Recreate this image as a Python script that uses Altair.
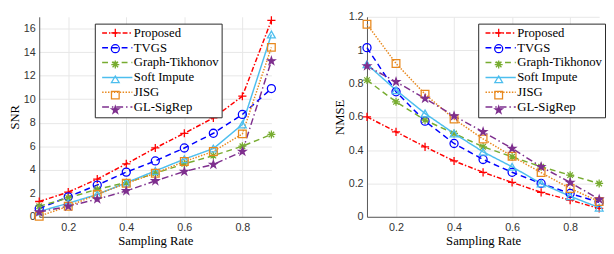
import altair as alt
import pandas as pd

methods = ["Proposed", "TVGS", "Graph-Tikhonov", "Soft Impute", "JISG", "GL-SigRep"]
rates = [0.1, 0.2, 0.3, 0.4, 0.5, 0.6, 0.7, 0.8, 0.9]

snr = {
    "Proposed":       [1.3, 2.1, 3.2, 4.5, 5.85, 7.1, 8.4, 10.25, 16.7],
    "TVGS":           [0.7, 1.7, 2.7, 3.8, 4.75, 5.85, 7.1, 8.7, 10.9],
    "Graph-Tikhonov": [0.9, 1.6, 2.35, 2.9, 3.7, 4.5, 5.2, 6.0, 7.0],
    "Soft Impute":    [0.45, 1.15, 1.9, 2.9, 3.9, 4.9, 5.8, 7.85, 15.5],
    "JISG":           [0.05, 0.9, 1.9, 2.85, 3.7, 4.7, 5.55, 7.05, 14.4],
    "GL-SigRep":      [0.4, 0.9, 1.5, 2.2, 3.05, 3.85, 4.45, 5.55, 13.25],
}
nmse = {
    "Proposed":       [0.60, 0.51, 0.42, 0.335, 0.267, 0.206, 0.147, 0.10, 0.05],
    "TVGS":           [1.015, 0.75, 0.574, 0.44, 0.344, 0.267, 0.20, 0.14, 0.087],
    "Graph-Tikhonov": [0.82, 0.69, 0.58, 0.50, 0.42, 0.36, 0.30, 0.25, 0.20],
    "Soft Impute":    [0.915, 0.76, 0.62, 0.50, 0.39, 0.30, 0.20, 0.123, 0.055],
    "JISG":           [1.155, 0.92, 0.736, 0.587, 0.467, 0.363, 0.265, 0.17, 0.092],
    "GL-SigRep":      [0.905, 0.81, 0.71, 0.605, 0.51, 0.41, 0.30, 0.206, 0.105],
}

x_ticks = [0.2, 0.4, 0.6, 0.8]
snr_ticks = [0, 2, 4, 6, 8, 10, 12, 14, 16]
nmse_ticks = [0, 0.2, 0.4, 0.6, 0.8, 1.0, 1.2]

colors = ["#FF0000", "#0000FF", "#77AC30", "#4DBEEE", "#E8891E", "#7E2F8E"]
dashes = [[5, 2, 1.5, 2], [6, 4], [6, 4], [1, 0], [1.5, 1.5], [7, 3, 1.5, 3]]
PLUS = "M-1,0L1,0M0,-1L0,1"
AST = "M-1,0L1,0M0,-1L0,1M-0.7,-0.7L0.7,0.7M-0.7,0.7L0.7,-0.7"
STAR = ("M0,-1L0.225,-0.309L0.951,-0.309L0.363,0.118L0.588,0.809L0,0.382"
        "L-0.588,0.809L-0.363,0.118L-0.951,-0.309L-0.225,-0.309Z")
shapes = [PLUS, "circle", AST, "triangle-up", "square", STAR]
fills = ["transparent"] * 5 + ["#7E2F8E"]
sizes = [70, 60, 50, 60, 40, 110]
marker_keys = ["mk:" + m for m in methods]

SERIF = "Liberation Serif"
SANS = "Liberation Sans"
W, H = 238, 205
LEG_FS = 13
LEG_RP = 1.2
LINE_LO = 24
SYM_W = 4
MK_S = 64
MK_W = 8
MK_DX = 15.5 - MK_W / 2


def panel(values, ytitle, ydomain, yticks, yfmt, lx, ly):
    rows = []
    for m, k in zip(methods, marker_keys):
        for r, v in zip(rates, values[m]):
            rows.append({"rate": r, "val": v, "method": m, "marker": k})
    df = pd.DataFrame(rows)
    base = alt.Chart(df)
    x = alt.X("rate:Q",
              scale=alt.Scale(domain=[0.1, 0.9], nice=False, zero=False),
              axis=alt.Axis(values=x_ticks, format=".1f", title="Sampling Rate",
                            labelPadding=5, titlePadding=2))
    y = alt.Y("val:Q",
              scale=alt.Scale(domain=ydomain, nice=False, zero=False),
              axis=alt.Axis(values=yticks, format=yfmt, title=ytitle,
                            labelPadding=4, titlePadding=2))
    # legend for the lines (drawn first: white box underneath)
    line_leg = alt.Legend(orient="none", legendX=lx, legendY=ly, title=None,
                          symbolType="M-1,0H14.5", symbolSize=SYM_W ** 2, symbolStrokeWidth=1.5,
                          labelOffset=LINE_LO, labelFont=SERIF, labelFontSize=LEG_FS,
                          labelColor="black", padding=3, rowPadding=LEG_RP,
                          strokeColor="#262626", fillColor="white", labelLimit=300)
    # legend for the markers (drawn on top, no box, blank labels)
    mk_leg = alt.Legend(orient="none", legendX=lx + MK_DX, legendY=ly, title=None,
                        symbolSize=MK_S, symbolStrokeWidth=1.3,
                        labelOffset=2, labelExpr="' '",
                        labelFont=SERIF, labelFontSize=LEG_FS,
                        padding=3, rowPadding=LEG_RP, labelLimit=300)
    lines = base.mark_line(strokeWidth=1.5).encode(
        x=x, y=y,
        stroke=alt.Stroke("method:N", scale=alt.Scale(domain=methods, range=colors), legend=line_leg),
        strokeDash=alt.StrokeDash("method:N", scale=alt.Scale(domain=methods, range=dashes), legend=line_leg),
    )
    points = base.mark_point(filled=False, strokeWidth=1.3, opacity=1).encode(
        x=x, y=y,
        color=alt.Color("marker:N", scale=alt.Scale(domain=marker_keys, range=colors), legend=mk_leg),
        shape=alt.Shape("marker:N", scale=alt.Scale(domain=marker_keys, range=shapes), legend=mk_leg),
        fill=alt.Fill("marker:N", scale=alt.Scale(domain=marker_keys, range=fills), legend=mk_leg),
        size=alt.Size("marker:N", scale=alt.Scale(domain=marker_keys, range=sizes), legend=None),
    )
    return alt.layer(lines, points).properties(width=W, height=H)


left = panel(snr, "SNR", [0, 17], snr_ticks, "d", 57, 7)
right = panel(nmse, "NMSE", [0, 1.2], nmse_ticks, "~g", 114, 7)

chart = alt.hconcat(left, right, spacing=56).resolve_scale(
    x="independent", y="independent", color="independent", strokeDash="independent",
    shape="independent", stroke="independent", fill="independent", size="independent"
).resolve_legend(
    color="independent", strokeDash="independent", shape="independent",
    stroke="independent", fill="independent"
).properties(padding=0).configure_view(stroke=None).configure_axis(
    labelFont=SANS, labelFontSize=11, labelColor="#333333",
    titleFont=SERIF, titleFontSize=13, titleFontWeight="normal", titleColor="black",
    domainColor="#555555", domainWidth=1, gridColor="#e6e6e6", gridWidth=1, ticks=False,
)

chart.save("out.html", embed_options={"renderer": "svg", "actions": False})
